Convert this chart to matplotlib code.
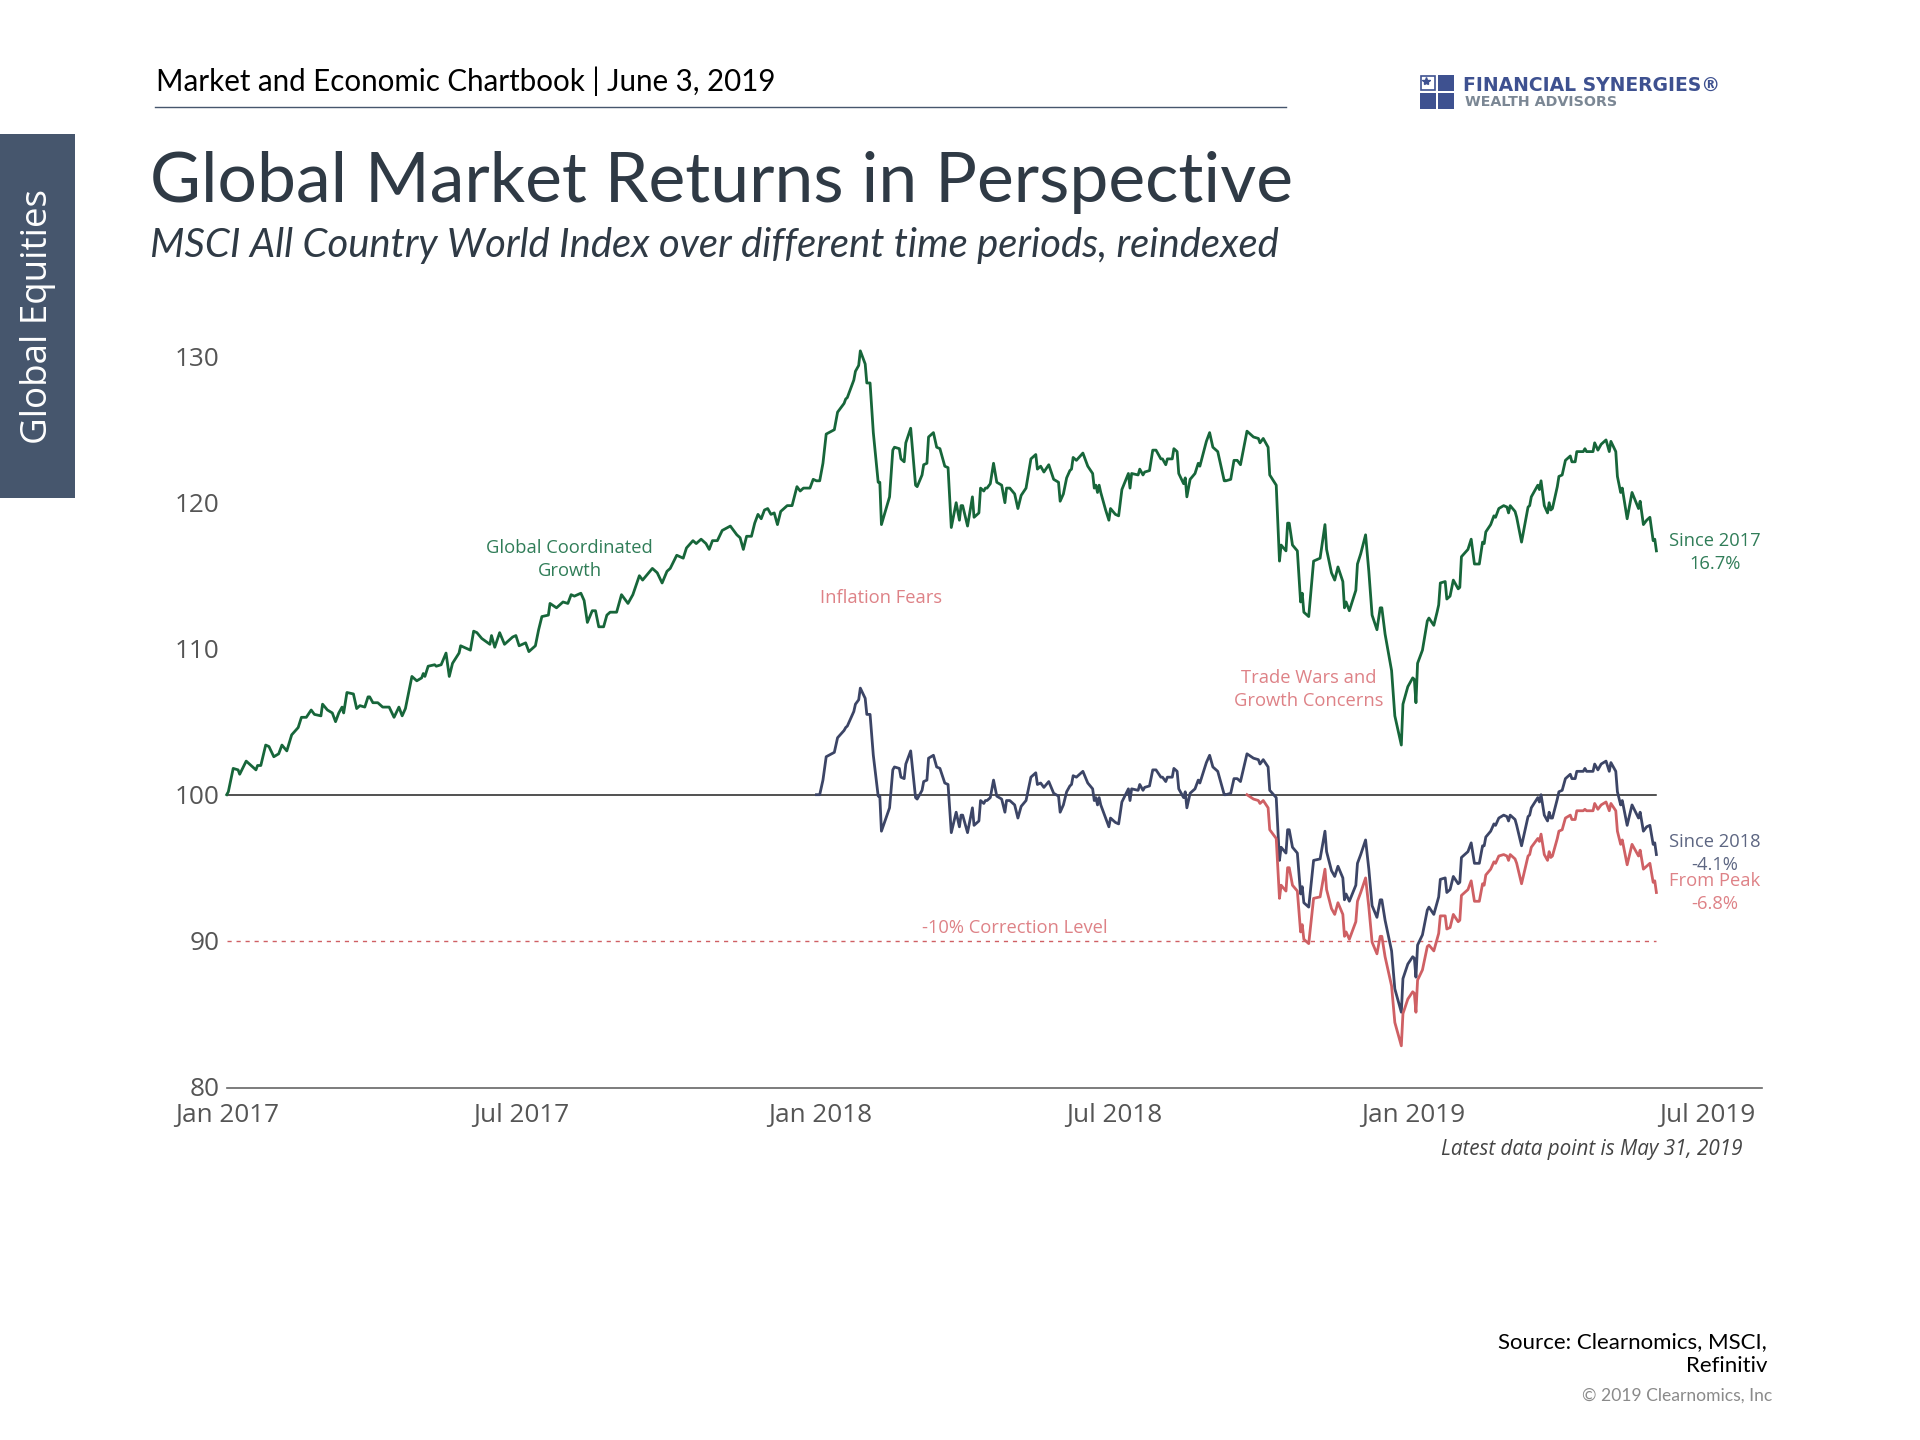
import numpy as np
import matplotlib
matplotlib.use("Agg")
import matplotlib.pyplot as plt
import matplotlib.dates as mdates
from matplotlib.patches import Rectangle
from matplotlib.lines import Line2D

# days since 2017-01-01, shared by all three series
days = [0, 1, 4, 7, 8, 12, 15, 18, 19, 21, 24, 26, 29, 32, 34, 37, 40, 44, 46, 49, 52, 54, 58, 59, 62, 65, 67, 69, 71, 72,
        74, 78, 80, 82, 85, 87, 88, 90, 93, 96, 100, 103, 106, 108, 110, 114, 117, 120, 121, 122, 124, 128, 129, 132, 135,
        137, 139, 143, 144, 150, 152, 154, 157, 162, 163, 165, 168, 171, 176, 178, 180, 184, 186, 190, 192, 194, 198, 199,
        203, 207, 210, 212, 214, 218, 220, 222, 225, 227, 229, 232, 234, 236, 240, 243, 247, 250, 254, 256, 262, 265, 268,
        271, 273, 277, 281, 283, 287, 289, 292, 295, 297, 299, 302, 305, 310, 314, 316, 318, 320, 323, 325, 327, 329, 331,
        333, 335, 337, 339, 341, 345, 348, 351, 353, 355, 359, 361, 363,
        365, 367, 369, 374, 376, 380, 381, 382, 386, 387, 389, 390, 393, 394, 396, 398, 401, 402, 403, 408, 410, 411, 414,
        415, 417, 418, 421, 424, 425, 428, 429, 431, 432, 435, 437, 439, 442, 444, 446, 449, 451, 452, 453, 456, 459, 460,
        463, 464, 466, 467, 468, 470, 472, 474, 477, 479, 480, 482, 485, 487, 489, 492, 495, 498, 499, 501, 503, 506, 509,
        512, 513, 515, 517, 519, 520, 521, 523, 527, 530, 533, 534, 535, 536, 537, 538, 541, 543, 544, 547, 549, 551, 555,
        556, 557, 561, 562, 564, 565, 568, 570, 572, 575, 576, 578, 579, 582, 583, 585, 586, 589, 590, 591, 593, 596, 598,
        599, 603, 605, 607, 610, 614, 615, 618, 620, 622, 624,
        628, 632, 635, 636, 638, 641, 642, 646, 648, 649, 652, 653, 654, 656, 659, 661, 662, 663, 666, 669, 673, 676, 677,
        680, 682, 684, 687, 688, 689, 691, 695, 696, 698, 701, 703, 705, 708, 710, 711, 713, 717, 719, 723, 724, 727, 730,
        731, 732, 733, 736, 739, 740, 743, 745, 746, 747, 750, 751, 753, 755, 758, 759, 760, 764, 766, 768, 771, 773, 774,
        775, 778, 780, 781, 783, 786, 788, 789, 790, 793, 794, 797, 801, 802, 803, 807, 808, 809, 811, 813, 814, 815, 816,
        819, 820, 822, 824, 827, 828, 830, 831, 835, 836, 837, 841, 842, 844, 846, 849, 851, 852, 855, 856, 858, 859, 862,
        865, 869, 870, 872, 874, 876, 878, 879, 880]

since_2017 = [100.0, 100.2, 101.8, 101.7, 101.4, 102.3, 102.0, 101.7, 102.0, 102.0, 103.4, 103.3, 102.6, 102.8, 103.4, 103.0,
              104.1, 104.6, 105.3, 105.3, 105.8, 105.5, 105.4, 106.2, 105.8, 105.6, 105.0, 105.6, 106.0, 105.6,
              107.0, 106.9, 105.9, 106.1, 106.0, 106.7, 106.7, 106.3, 106.3, 106.0, 106.0, 105.3, 106.0, 105.4, 105.9,
              108.1, 107.8, 108.0, 108.3, 108.1, 108.8, 108.9, 108.8, 108.9, 109.7,
              108.1, 109.0, 109.7, 110.2, 109.9, 111.2, 111.1, 110.7, 110.3, 110.9, 110.1, 111.1, 110.3, 110.8, 110.9,
              110.2, 110.4, 109.8, 110.2, 111.3, 112.2, 112.3, 113.1,
              112.8, 113.2, 113.1, 113.7, 113.6, 113.8, 113.3, 111.8, 112.6, 112.6, 111.5, 111.5, 112.3, 112.5, 112.5,
              113.7, 113.1, 113.7, 115.0, 114.7, 115.5, 115.2, 114.5,
              115.3, 115.5, 116.4, 116.2, 116.9, 117.4, 117.2, 117.5, 117.2, 116.8, 117.4, 117.4, 118.1, 118.4, 117.8,
              117.6, 116.8, 117.7, 117.7, 118.6, 119.2, 118.9, 119.5,
              119.6, 119.2, 119.3, 118.5, 119.4, 119.8, 119.8, 121.1, 120.8, 121.0, 121.0, 121.6, 121.5,
              121.5, 122.7, 124.7, 125.0, 126.2, 126.8, 127.1, 127.2, 128.4, 129.0, 129.4, 130.4, 129.5, 128.2, 128.2,
              124.8, 121.4, 121.4, 118.5, 120.4, 123.6, 123.8, 123.7,
              123.0, 122.8, 124.1, 125.1, 121.2, 121.1, 121.9, 122.6, 122.7, 124.5, 124.8, 123.8, 123.7, 122.5, 122.4,
              118.3, 120.0, 118.8, 119.8, 119.8, 118.4, 120.4, 119.0,
              119.3, 121.0, 120.8, 121.0, 121.0, 121.3, 122.7, 121.4, 121.2, 120.0, 121.0, 121.0, 120.6, 119.6, 120.5,
              121.0, 123.0, 123.3, 122.3, 122.5, 122.1, 122.6, 121.6,
              121.4, 120.1, 120.6, 121.7, 122.2, 122.3, 123.1, 122.9, 123.4, 122.5, 122.0, 121.0, 121.2, 120.7, 121.2,
              120.7, 119.5, 118.8, 119.6, 119.2, 119.1, 120.9, 122.0,
              121.0, 122.0, 121.9, 122.3, 121.9, 122.1, 122.2, 123.6, 123.6, 123.0, 123.0, 122.6, 123.0, 123.0, 123.7,
              123.5, 122.0, 121.3, 121.7, 120.4, 121.6, 122.0, 122.7,
              122.5, 124.2, 124.8, 123.8, 123.5, 121.5, 121.5, 121.6, 122.9, 122.9, 122.6,
              124.9, 124.5, 124.4, 124.1, 124.4, 123.8, 121.9, 121.2, 116.0, 117.1, 116.7, 118.6, 118.6, 117.1, 116.7,
              113.2, 113.8, 112.5, 112.2, 116.0, 116.2, 118.5, 116.8,
              115.2, 114.7, 115.6, 114.6, 112.8, 113.2, 112.6, 114.0, 115.8, 116.5, 117.8, 115.3, 112.3, 111.3, 112.8,
              112.8, 111.0, 108.5, 105.4, 103.4, 106.2, 107.4, 108.0,
              107.9, 106.3, 109.0, 109.9, 111.9, 112.1, 111.6, 112.5, 113.0, 114.5, 114.6, 113.4, 113.6, 114.7, 114.1,
              114.2, 116.3, 116.8, 117.5, 115.8, 115.8, 117.3, 117.2,
              118.0, 118.5, 119.1, 119.0, 119.6, 119.8, 119.7, 119.3, 119.8, 119.4, 119.0, 117.3, 119.7, 119.8, 120.4,
              121.2, 120.9, 121.5, 119.8, 119.3, 120.0, 119.5, 119.6,
              121.1, 121.8, 121.9, 122.9, 123.2, 122.8, 122.8, 123.5, 123.5, 123.7, 123.5, 123.5, 124.1, 123.6, 124.0,
              124.3, 123.5, 124.2, 123.5, 121.8, 120.7, 121.0, 118.9,
              120.7, 119.6, 120.1, 118.5, 118.8, 119.0, 117.4, 117.5, 116.7]

# starts at day 363
since_2018 = [100.0, 100.0, 101.0, 102.6, 102.9, 103.9, 104.4, 104.6, 104.7, 105.7, 106.2, 106.5, 107.3, 106.6, 105.5, 105.5,
              102.7, 99.9, 99.9, 97.5, 99.1, 101.7, 101.9, 101.8,
              101.2, 101.1, 102.1, 103.0, 99.8, 99.7, 100.3, 100.9, 101.0, 102.5, 102.7, 101.9, 101.8, 100.8, 100.7,
              97.4, 98.8, 97.8, 98.6, 98.6, 97.4, 99.1, 97.9,
              98.2, 99.6, 99.4, 99.6, 99.6, 99.8, 101.0, 99.9, 99.7, 98.8, 99.6, 99.6, 99.3, 98.4, 99.2,
              99.6, 101.2, 101.5, 100.7, 100.8, 100.5, 100.9, 100.1,
              99.9, 98.8, 99.3, 100.2, 100.6, 100.7, 101.3, 101.2, 101.6, 100.8, 100.4, 99.6, 99.8, 99.3, 99.8,
              99.3, 98.4, 97.8, 98.4, 98.1, 98.0, 99.5, 100.4,
              99.6, 100.4, 100.3, 100.7, 100.3, 100.5, 100.6, 101.7, 101.7, 101.2, 101.2, 100.9, 101.2, 101.2, 101.8,
              101.6, 100.4, 99.8, 100.2, 99.1, 100.1, 100.4, 101.0,
              100.8, 102.2, 102.7, 101.9, 101.6, 100.0, 100.0, 100.1, 101.1, 101.1, 100.9,
              102.8, 102.5, 102.4, 102.1, 102.4, 101.9, 100.3, 99.8, 95.5, 96.4, 96.0, 97.6, 97.6, 96.4, 96.0,
              93.2, 93.7, 92.6, 92.3, 95.5, 95.6, 97.5, 96.1,
              94.8, 94.4, 95.1, 94.3, 92.8, 93.2, 92.7, 93.8, 95.3, 95.9, 96.9, 94.9, 92.4, 91.6, 92.8,
              92.8, 91.4, 89.3, 86.7, 85.1, 87.4, 88.4, 88.9,
              88.8, 87.5, 89.7, 90.4, 92.1, 92.3, 91.8, 92.6, 93.0, 94.2, 94.3, 93.3, 93.5, 94.4, 93.9,
              94.0, 95.7, 96.1, 96.7, 95.3, 95.3, 96.5, 96.5,
              97.1, 97.5, 98.0, 97.9, 98.4, 98.6, 98.5, 98.2, 98.6, 98.3, 97.9, 96.5, 98.5, 98.6, 99.1,
              99.8, 99.5, 100.0, 98.6, 98.2, 98.8, 98.4, 98.4,
              99.7, 100.2, 100.3, 101.1, 101.4, 101.1, 101.1, 101.6, 101.6, 101.8, 101.6, 101.6, 102.1, 101.7, 102.1,
              102.3, 101.6, 102.2, 101.6, 100.2, 99.3, 99.6, 97.9,
              99.3, 98.4, 98.8, 97.5, 97.8, 97.9, 96.6, 96.7, 95.9]

# starts at day 628
from_peak = [100.0, 99.7, 99.6, 99.4, 99.6, 99.1, 97.6, 97.0, 92.9, 93.8, 93.4, 95.0, 95.0, 93.8, 93.4,
             90.6, 91.1, 90.1, 89.8, 92.9, 93.0, 94.9, 93.5,
             92.2, 91.8, 92.6, 91.8, 90.3, 90.6, 90.1, 91.3, 92.7, 93.3, 94.3, 92.3, 89.9, 89.1, 90.3,
             90.3, 88.9, 86.9, 84.4, 82.8, 85.0, 86.0, 86.5,
             86.4, 85.1, 87.3, 88.0, 89.6, 89.7, 89.3, 90.1, 90.5, 91.7, 91.7, 90.8, 90.9, 91.8, 91.3,
             91.4, 93.1, 93.5, 94.1, 92.7, 92.7, 93.9, 93.8,
             94.5, 94.9, 95.4, 95.3, 95.8, 95.9, 95.8, 95.5, 95.9, 95.6, 95.3, 93.9, 95.8, 95.9, 96.4,
             97.0, 96.8, 97.3, 95.9, 95.5, 96.1, 95.7, 95.8,
             97.0, 97.5, 97.6, 98.4, 98.6, 98.3, 98.3, 98.9, 98.9, 99.0, 98.9, 98.9, 99.4, 99.0, 99.3,
             99.5, 98.9, 99.4, 98.9, 97.5, 96.6, 96.9, 95.2,
             96.6, 95.8, 96.2, 94.9, 95.1, 95.3, 94.0, 94.1, 93.3]

y_ticks = [80, 90, 100, 110, 120, 130]
x_tick_dates = ["2017-01-01", "2017-07-01", "2018-01-01", "2018-07-01", "2019-01-01", "2019-07-01"]
x_tick_labels = ["Jan 2017", "Jul 2017", "Jan 2018", "Jul 2018", "Jan 2019", "Jul 2019"]

GREEN = "#17663a"
NAVY = "#3c4566"
RED = "#cf6064"
GREEN_TXT = "#307d58"
NAVY_TXT = "#5d6682"
RED_TXT = "#de8287"
HEAD = "#2f3a45"
SLATE = "#46566d"
LOGO = "#3e5190"
HEAD_FONT = ["Lato", "DejaVu Sans"]

W, H = 1920, 1440


def fx(x):
    return x / W


def fy(y):
    return 1 - y / H


fig = plt.figure(figsize=(W / 100, H / 100), dpi=100, facecolor="white")
ax = fig.add_axes([fx(226.7), fy(1088), (1762 - 226.7) / W, (1088 - 356.7) / H])

days = np.array(days)
dates = np.datetime64("2017-01-01") + days.astype("timedelta64[D]")

ax.plot(dates, np.full(len(dates), 100), color="#222222", lw=1.1, clip_on=False)
ax.plot(dates, np.full(len(dates), 90), color=RED, lw=1.0, ls=(0, (3, 3.5)), clip_on=False)
ax.plot(dates, since_2017, color=GREEN, lw=2.0, clip_on=False, solid_joinstyle="round")
ax.plot(dates[days >= 363], since_2018, color=NAVY, lw=2.0, clip_on=False, solid_joinstyle="round")
ax.plot(dates[days >= 628], from_peak, color=RED, lw=2.0, clip_on=False, solid_joinstyle="round")

ax.set_xlim(np.datetime64("2017-01-01"), np.datetime64("2019-08-04"))
ax.set_ylim(79.91, 130)
ax.set_yticks(y_ticks)
ax.set_xticks([np.datetime64(d) for d in x_tick_dates])
ax.set_xticklabels(x_tick_labels)
ax.tick_params(axis="both", length=0, labelcolor="#555555", labelsize=18.8)
ax.tick_params(axis="x", pad=10.5)
ax.tick_params(axis="y", pad=5)
for t in ax.get_xticklabels() + ax.get_yticklabels():
    t.set_fontfamily("Open Sans")
for s in ["top", "right", "left"]:
    ax.spines[s].set_visible(False)
ax.spines["bottom"].set_color("#666666")
ax.spines["bottom"].set_linewidth(1.2)
ax.patch.set_alpha(0)


def note(date, y, txt, color):
    ax.text(mdates.datestr2num(date), y, txt, color=color, fontsize=13.2, family="Open Sans",
            ha="center", va="center", linespacing=1.36, clip_on=False)


note("2017-07-31", 116.1, "Global Coordinated\nGrowth", GREEN_TXT)
note("2018-02-08", 113.5, "Inflation Fears", RED_TXT)
note("2018-10-29", 107.2, "Trade Wars and\nGrowth Concerns", RED_TXT)
note("2018-05-01", 90.9, "-10% Correction Level", RED_TXT)
note("2019-07-06", 116.6, "Since 2017\n16.7%", GREEN_TXT)
note("2019-07-06", 96.0, "Since 2018\n-4.1%", NAVY_TXT)
note("2019-07-06", 93.3, "From Peak\n-6.8%", RED_TXT)

# page furniture
fig.add_artist(Rectangle((0, fy(498)), fx(75), (498 - 134) / H, transform=fig.transFigure, color=SLATE, lw=0))
fig.text(fx(38), fy(316), "Global Equities", rotation=90, color="white", fontsize=26.5, family="Open Sans",
         ha="center", va="center")
fig.text(fx(156), fy(81), "Market and Economic Chartbook | June 3, 2019", color="black", fontsize=21.25,
         family=HEAD_FONT, ha="left", va="center")
fig.add_artist(Line2D([fx(155), fx(1286)], [fy(107), fy(107)], color=SLATE, lw=1.0))
fig.text(fx(150), fy(182), "Global Market Returns in Perspective", color=HEAD, fontsize=50.2, family=HEAD_FONT,
         ha="left", va="center")
fig.text(fx(150), fy(246), "MSCI All Country World Index over different time periods, reindexed", color=HEAD,
         fontsize=28.8, family=HEAD_FONT, style="italic", ha="left", va="center")
fig.text(fx(1441), fy(1149), "Latest data point is May 31, 2019", color="#444444", fontsize=14.9,
         family="Open Sans", style="italic", ha="left", va="center")
fig.text(fx(1767), fy(1354), "Source: Clearnomics, MSCI,\nRefinitiv", color="black", fontsize=16, family=HEAD_FONT,
         ha="right", va="center", linespacing=1.27)
fig.text(fx(1772), fy(1396), "\u00a9 2019 Clearnomics, Inc", color="#8a8a8a", fontsize=12.6, family=HEAD_FONT,
         ha="right", va="center")

# logo
sq = 16
for i, (lx, ly) in enumerate([(1420, 75), (1438, 75), (1420, 93), (1438, 93)]):
    if i == 0:
        fig.add_artist(Rectangle((fx(lx + 0.7), fy(ly + sq - 0.7)), (sq - 1.4) / W, (sq - 1.4) / H,
                                 transform=fig.transFigure, facecolor="white", edgecolor=LOGO, lw=1.2))
    else:
        fig.add_artist(Rectangle((fx(lx), fy(ly + sq)), sq / W, sq / H, transform=fig.transFigure,
                                 facecolor=LOGO, edgecolor="none", lw=0))
fig.add_artist(Line2D([fx(1425.5)], [fy(81)], marker="*", color=LOGO, ms=6, lw=0))
fig.text(fx(1463), fy(85), "FINANCIAL SYNERGIES\u00ae", color=LOGO, fontsize=13.5, fontweight="bold",
         family="DejaVu Sans", ha="left", va="center")
fig.text(fx(1465), fy(102), "WEALTH ADVISORS", color="#7b8794", fontsize=10.3, fontweight="bold",
         family="DejaVu Sans", ha="left", va="center")

fig.savefig("out.png", dpi=100)
